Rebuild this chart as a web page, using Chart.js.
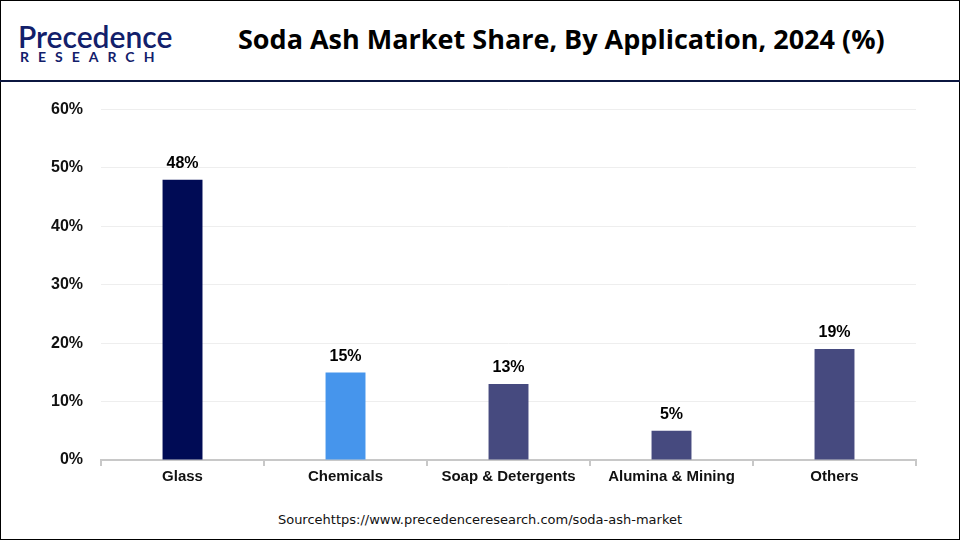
<!DOCTYPE html>
<html>
<head>
<meta charset="utf-8">
<script src="https://cdn.jsdelivr.net/npm/chart.js@4.4.1/dist/chart.umd.min.js"></script>
<style>
  body { margin: 0; width: 960px; height: 540px; background: #fff; font-family: "Open Sans", sans-serif; }
  .frame { position: absolute; left: 0; top: 0; width: 958px; height: 538px; border: 1px solid #000; }
  .header { position: absolute; left: 0; top: 0; width: 960px; height: 80px; border-bottom: 2px solid #0b1640; }
  .logo1 { position: absolute; left: 18px; top: 18px; font: 600 30px "Lato", sans-serif; color: #12206b; }
  .logo2 { position: absolute; left: 20px; top: 48px; font: 700 14px "Lato", sans-serif; color: #12206b; letter-spacing: 9px; }
  .title { position: absolute; left: 238px; top: 20px; font: 700 27px "Open Sans", sans-serif; color: #000; }
  .source { position: absolute; left: 0; width: 960px; top: 512px; text-align: center; font: 13px "DejaVu Sans", sans-serif; color: #111; }
  #wrap { position: absolute; left: 0; top: 82px; width: 960px; height: 406px; }
</style>
</head>
<body>
<div class="frame"></div>
<div class="header">
  <div class="logo1">Precedence</div>
  <div class="logo2">RESEARCH</div>
  <div class="title">Soda Ash Market Share, By Application, 2024 (%)</div>
</div>
<div id="wrap"><canvas id="chart"></canvas></div>
<div class="source">Sourcehttps://www.precedenceresearch.com/soda-ash-market</div>
<script>
const categories = ['Glass', 'Chemicals', 'Soap & Detergents', 'Alumina & Mining', 'Others'];
const shares = [48, 15, 13, 5, 19];
const barColors = ['#000b55', '#4695ec', '#464a7f', '#464a7f', '#464a7f'];

const valueLabels = {
  id: 'valueLabels',
  afterDatasetsDraw(chart) {
    const ctx = chart.ctx;
    ctx.save();
    ctx.font = 'bold 16px "Liberation Sans", Arial, sans-serif';
    ctx.fillStyle = '#000';
    ctx.textAlign = 'center';
    ctx.textBaseline = 'bottom';
    chart.getDatasetMeta(0).data.forEach((bar, i) => {
      ctx.fillText(shares[i] + '%', bar.x, bar.y - 8);
    });
    ctx.restore();
  }
};

new Chart(document.getElementById('chart'), {
  type: 'bar',
  data: {
    labels: categories,
    datasets: [{ data: shares, backgroundColor: barColors, barPercentage: 0.49, categoryPercentage: 0.5 }]
  },
  options: {
    responsive: true,
    maintainAspectRatio: false,
    animation: false,
    layout: { padding: { left: 33, right: 44, top: 15, bottom: 0 } },
    plugins: { legend: { display: false }, tooltip: { enabled: false } },
    scales: {
      x: {
        grid: { display: true, drawOnChartArea: false, offset: true, tickLength: 6, color: '#c8c8c8', lineWidth: 2 },
        border: { color: '#c8c8c8', width: 2 },
        ticks: { color: '#111', font: { family: '"Liberation Sans", Arial, sans-serif', size: 15, weight: 'bold' }, padding: 2 }
      },
      y: {
        min: 0, max: 60,
        ticks: { stepSize: 10, callback: v => v + '%', color: '#111', padding: 18,
          font: { family: '"Liberation Sans", Arial, sans-serif', size: 16, weight: 'bold' } },
        grid: { color: '#eeeeee', drawTicks: false },
        border: { display: false }
      }
    }
  },
  plugins: [valueLabels]
});
</script>
</body>
</html>
